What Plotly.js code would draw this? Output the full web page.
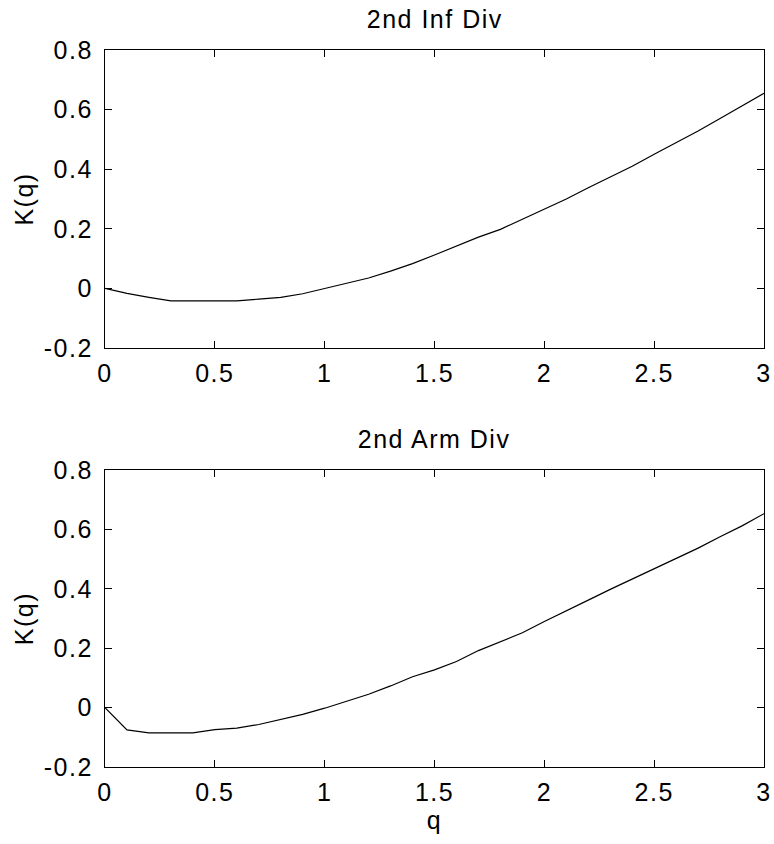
<!DOCTYPE html>
<html>
<head>
<meta charset="utf-8">
<script src="https://cdn.plot.ly/plotly-3.0.1.min.js"></script>
<style>
html,body{margin:0;padding:0;background:#fff;}
#chart{width:774px;height:844px;}
#chart text{letter-spacing:1.5px;}
</style>
</head>
<body>
<div id="chart"></div>
<script>
const q = [0,0.1,0.2,0.3,0.4,0.5,0.6,0.7,0.8,0.9,1.0,1.1,1.2,1.3,1.4,1.5,1.6,1.7,1.8,1.9,2.0,2.1,2.2,2.3,2.4,2.5,2.6,2.7,2.8,2.9,3.0];
const infDiv = [0,-0.017,-0.03,-0.042,-0.042,-0.042,-0.042,-0.036,-0.03,-0.018,0.0,0.018,0.035,0.058,0.083,0.112,0.143,0.172,0.198,0.232,0.265,0.300,0.338,0.375,0.410,0.450,0.488,0.528,0.570,0.612,0.655];
const armDiv = [0,-0.075,-0.085,-0.085,-0.085,-0.074,-0.069,-0.057,-0.04,-0.023,-0.002,0.022,0.045,0.073,0.104,0.127,0.155,0.192,0.222,0.252,0.290,0.325,0.362,0.398,0.433,0.468,0.503,0.537,0.575,0.612,0.653];
const xTickVals = [0,0.5,1,1.5,2,2.5,3];
const xTickText = ["0","0.5","1","1.5","2","2.5","3"];
const yTickVals = [-0.2,0,0.2,0.4,0.6,0.8];
const yTickText = ["-0.2","0","0.2","0.4","0.6","0.8"];
const titles = ["2nd Inf Div","2nd Arm Div"];
const yLabel = "K(q)";
const xLabel = "q";

const FONT = "Liberation Sans, Arial, Helvetica, sans-serif";
const FS = 25;
const traces = [
  {x:q, y:infDiv, xaxis:'x', yaxis:'y', mode:'lines', line:{color:'#000', width:1.2}, hoverinfo:'skip'},
  {x:q, y:armDiv, xaxis:'x2', yaxis:'y2', mode:'lines', line:{color:'#000', width:1.2}, hoverinfo:'skip'}
];
function xa(anchor, withTitle){
  const a = {anchor:anchor, range:[0,3], tickvals:xTickVals, ticktext:xTickText,
    showline:true, mirror:'ticks', linecolor:'#000', linewidth:1.2, ticks:'inside', ticklen:7, tickwidth:1, tickcolor:'#000',
    showgrid:false, zeroline:false, tickfont:{family:FONT,size:FS,color:'#000'}, ticklabelstandoff:3};
  if(withTitle) a.title = {text:xLabel, font:{family:FONT,size:FS,color:'#000'}, standoff:6};
  return a;
}
function ya(domain, anchor){
  return {domain:domain, anchor:anchor, range:[-0.2,0.8], tickvals:yTickVals, ticktext:yTickText,
    showline:true, mirror:'ticks', linecolor:'#000', linewidth:1.2, ticks:'inside', ticklen:7, tickwidth:1, tickcolor:'#000',
    showgrid:false, zeroline:false, tickfont:{family:FONT,size:FS,color:'#000'}, ticklabelstandoff:6,
    title:{text:yLabel, font:{family:FONT,size:FS,color:'#000'}, standoff:9}};
}
const layout = {
  width:774, height:844, paper_bgcolor:'#fff', plot_bgcolor:'#fff', showlegend:false,
  margin:{l:105, r:10, t:50, b:77},
  font:{family:FONT, color:'#000'},
  xaxis: xa('y', false),
  yaxis: ya([0.5844,1],'x'),
  xaxis2: xa('y2', true),
  yaxis2: ya([0,0.4142],'x2'),
  annotations:[
    {text:titles[0], xref:'paper', yref:'paper', x:0.5, y:1, yshift:31, xanchor:'center', yanchor:'middle', showarrow:false, font:{family:FONT,size:FS,color:'#000'}},
    {text:titles[1], xref:'paper', yref:'paper', x:0.5, y:0.4142, yshift:31, xanchor:'center', yanchor:'middle', showarrow:false, font:{family:FONT,size:FS,color:'#000'}}
  ]
};
Plotly.newPlot('chart', traces, layout, {staticPlot:true, displayModeBar:false});
</script>
</body>
</html>
